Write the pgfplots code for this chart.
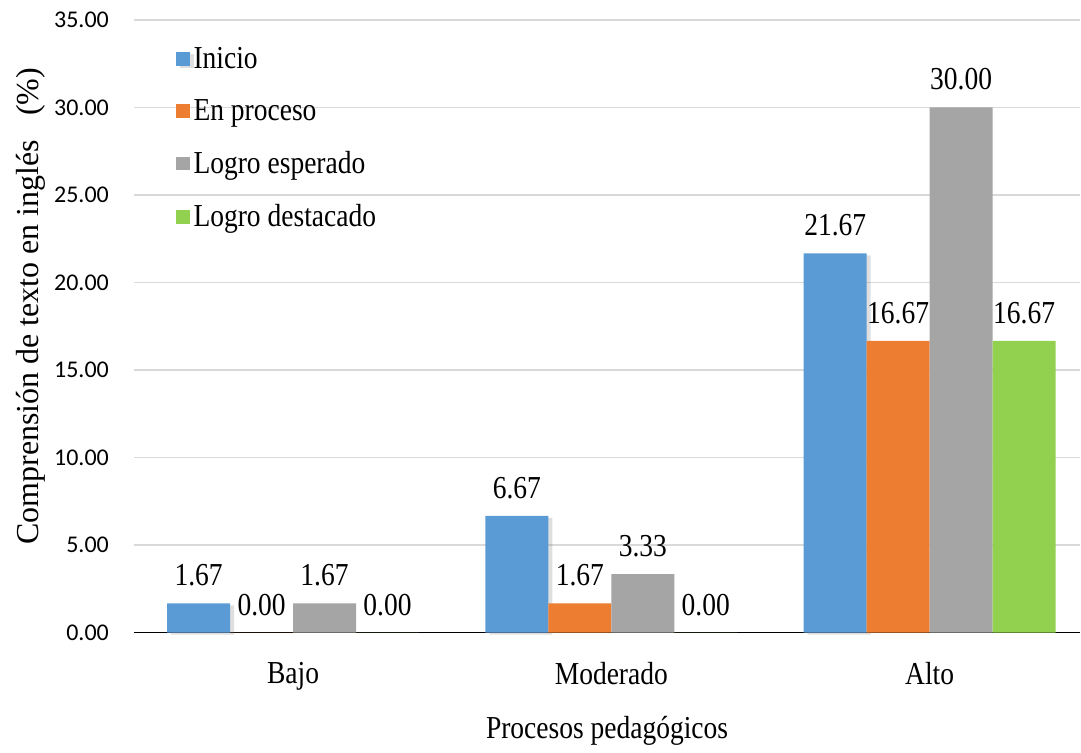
\documentclass[border=0pt]{standalone}
\usepackage{pgfplots}
\pgfplotsset{compat=1.18}
\usepackage{fontspec}
\setmainfont[FakeStretch=0.86]{Liberation Serif}
\newfontfamily\timesfont{Liberation Serif}
\newfontfamily\ticfont{Carlito}
\usetikzlibrary{shadows}

\definecolor{cblue}{HTML}{5B9BD5}
\definecolor{corange}{HTML}{ED7D31}
\definecolor{cgray}{HTML}{A5A5A5}
\definecolor{cgreen}{HTML}{92D050}
\definecolor{cgrid}{HTML}{D9D9D9}

\begin{document}
\begin{tikzpicture}
\begin{axis}[
  scale only axis,
  width=473.5pt, height=306.5pt,
  ybar, bar width=31.5pt,
  xmin=-0.5, xmax=2.473,
  ymin=0, ymax=35,
  ytick={0,5,...,35},
  xtick={0,1,2},
  xticklabels={Bajo, Moderado, Alto},
  axis x line*=bottom,
  axis y line*=left,
  y axis line style={draw=none},
  ymajorgrids,
  grid style={cgrid, line width=0.8pt},
  major tick length=0pt,
  x axis line style={black, line width=0.8pt, -},
  /pgf/number format/assume math mode=true,
  yticklabel={\pgfmathprintnumber[fixed,fixed zerofill,precision=2]{\tick}},
  yticklabel style={font=\ticfont\fontsize{12}{14}\selectfont, xshift=-9pt},
  xticklabel style={font=\rmfamily\fontsize{16}{19}\selectfont, yshift=-11.5pt},
  xlabel={Procesos pedagógicos},
  ylabel={Comprensión de texto en inglés \ \ (\%)},
  xlabel style={font=\rmfamily\fontsize{16}{19}\selectfont, yshift=-6pt},
  ylabel style={font=\timesfont\fontsize{16}{19}\selectfont, yshift=-2.5pt, xshift=10pt},
  nodes near coords,
  nodes near coords align={vertical},
  every node near coord/.append style={font=\rmfamily\fontsize{16}{19}\selectfont,
    yshift=5pt, /pgf/number format/.cd, fixed, fixed zerofill, precision=2},
  clip=false,
  legend style={draw=none, fill=none, at={(0.044,0.963)}, anchor=north west,
    font=\rmfamily\fontsize{16}{19}\selectfont, row sep=10pt,
    legend cell align=left, inner sep=0pt},
  legend image code/.code={\fill[#1] (0pt,-3.4pt) rectangle (6.8pt,3.4pt);},
]
\addplot[fill=cblue, draw=none, bar shift=-47.25pt,
  drop shadow={shadow xshift=2pt, shadow yshift=-1pt, opacity=0.25}]
  coordinates {(0,1.67) (1,6.67) (2,21.67)};
\addplot[fill=corange, draw=none, bar shift=-15.75pt]
  coordinates {(0,0.00) (1,1.67) (2,16.67)};
\addplot[fill=cgray, draw=none, bar shift=15.75pt]
  coordinates {(0,1.67) (1,3.33) (2,30.00)};
\addplot[fill=cgreen, draw=none, bar shift=47.25pt]
  coordinates {(0,0.00) (1,0.00) (2,16.67)};
\legend{Inicio, En proceso, Logro esperado, Logro destacado}
\end{axis}
\path (current axis.south west) ++(-67pt,-55.5pt) (current axis.north east) ++(0pt,10pt);
\end{tikzpicture}
\end{document}
